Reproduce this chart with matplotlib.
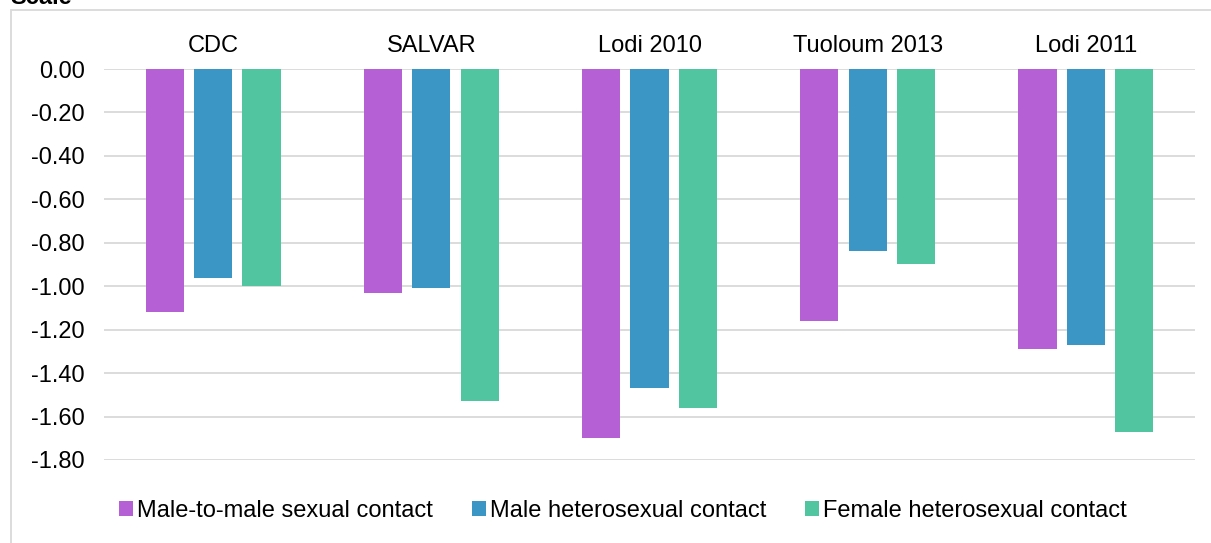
import numpy as np
import matplotlib.pyplot as plt
from matplotlib.patches import Rectangle

plt.rcParams['font.family'] = ['Liberation Sans', 'DejaVu Sans']

# Data
sites = ["CDC", "SALVAR", "Lodi 2010", "Tuoloum 2013", "Lodi 2011"]
series_names = ["Male-to-male sexual contact", "Male heterosexual contact",
                "Female heterosexual contact"]
msm = [-1.12, -1.03, -1.70, -1.16, -1.29]
male_het = [-0.96, -1.01, -1.47, -0.84, -1.27]
female_het = [-1.00, -1.53, -1.56, -0.90, -1.67]
yticks = [0.0, -0.2, -0.4, -0.6, -0.8, -1.0, -1.2, -1.4, -1.6, -1.8]

colors = ["#b660d6", "#3b96c6", "#50c5a0"]

fig = plt.figure(figsize=(12.11, 5.43), dpi=100)
ax = fig.add_axes([0.0859, 0.1529, 0.9009, 0.7200])

x = np.arange(len(sites))
width = 0.175
step = 0.222
for i, (vals, name) in enumerate(zip([msm, male_het, female_het], series_names)):
    ax.bar(x + (i - 1) * step, vals, width, color=colors[i], label=name,
           zorder=3)

ax.set_xlim(-0.5, len(sites) - 0.5)
ax.set_ylim(-1.8, 0)
ax.set_yticks(yticks)
ax.set_yticklabels([f"{v:.2f}" for v in yticks])
ax.yaxis.grid(True, color="#d9d9d9", linewidth=1.3, zorder=0)
ax.set_axisbelow(True)
for s in ax.spines.values():
    s.set_visible(False)

ax.xaxis.tick_top()
ax.set_xticks(x)
ax.set_xticklabels(sites)
ax.tick_params(axis='x', length=0, pad=9, labelsize=17)
ax.tick_params(axis='y', length=0, pad=14, labelsize=17)

# outer chart frame
fig.patches.append(Rectangle((11 / 1211, -0.1), 1.1, 1 - 10 / 543 + 0.1,
                             transform=fig.transFigure, fill=False,
                             edgecolor="#d9d9d9", linewidth=1.3))

fig.text(10 / 1211, 1 - 4 / 543, "Scale", fontsize=17, fontweight='bold',
         va='baseline', ha='left')

fig.legend(loc='center', bbox_to_anchor=(623 / 1211, 1 - 511 / 543), ncol=3,
           frameon=False, fontsize=17, handlelength=0.6, handleheight=0.6,
           handletextpad=0.17, columnspacing=1.65)

fig.savefig("out.png", dpi=100)
